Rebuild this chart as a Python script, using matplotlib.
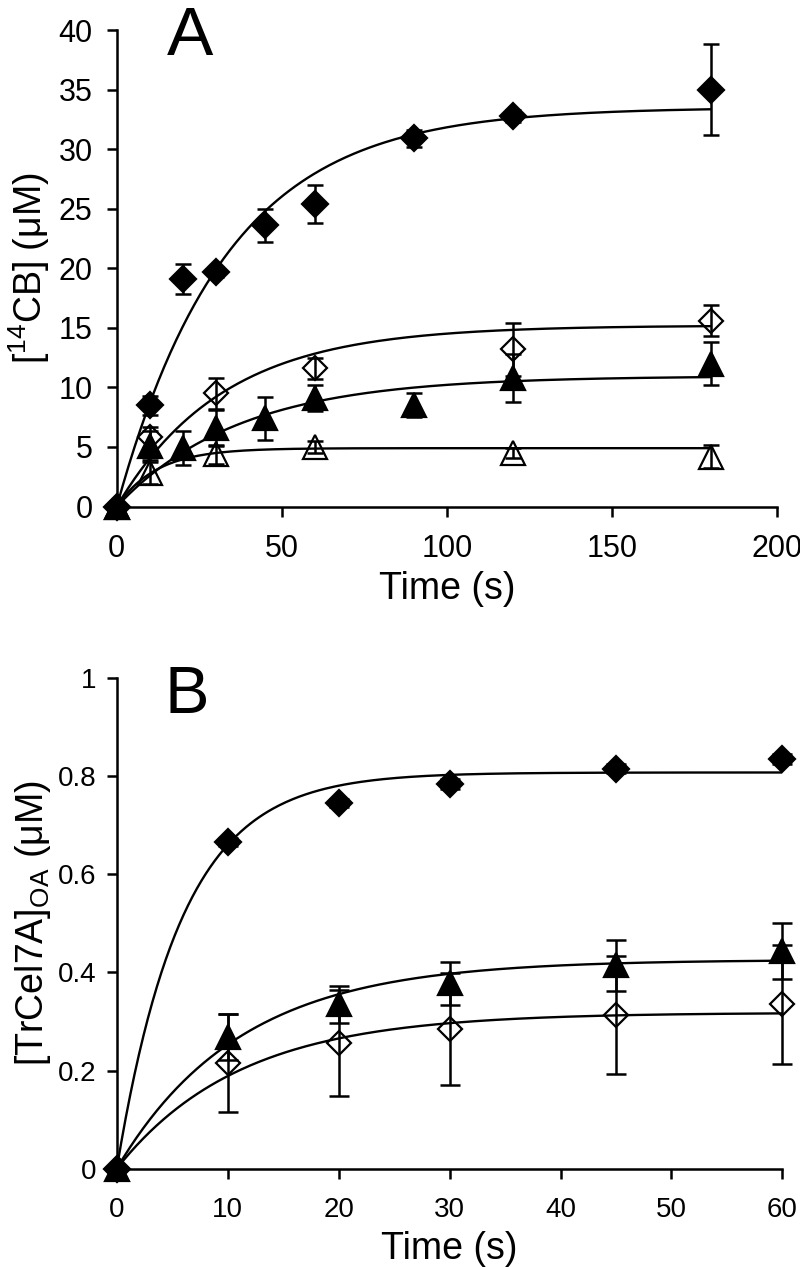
import numpy as np
import matplotlib
matplotlib.use("Agg")
import matplotlib.pyplot as plt
from matplotlib.ticker import FormatStrFormatter

plt.rcParams['font.family'] = ['Liberation Sans', 'DejaVu Sans']
plt.rcParams['mathtext.fontset'] = 'custom'
plt.rcParams['mathtext.rm'] = 'Liberation Sans'

# Panel A data: [14CB] (uM) vs time (s)
t_a = [0, 10, 20, 30, 45, 60, 90, 120, 180]
fd_a = [0, 8.5, 19.1, 19.7, 23.6, 25.4, 30.9, 32.8, 35.0]
fd_a_err = [0, 0.8, 1.3, 0.4, 1.4, 1.6, 0.7, 0.5, 3.8]

t_a2 = [0, 10, 30, 60, 120, 180]
od_a = [0, 5.8, 9.5, 11.6, 13.2, 15.6]
od_a_err = [0, 0.9, 1.3, 0.9, 2.2, 1.3]

t_a3 = [0, 10, 20, 30, 45, 60, 90, 120, 180]
ft_a = [0, 5.1, 4.9, 6.6, 7.4, 9.1, 8.5, 10.8, 12.0]
ft_a_err = [0, 1.2, 1.4, 1.5, 1.8, 1.1, 1.0, 2.0, 1.8]

t_a4 = [0, 10, 30, 60, 120, 180]
ot_a = [0, 2.8, 4.4, 5.0, 4.5, 4.2]
ot_a_err = [0, 0.9, 0.8, 0.5, 0.4, 1.0]

# fitted single-exponential curves: (plateau, rate)
fit_a = {'fd': (33.5, 0.030), 'od': (15.2, 0.031), 'ft': (10.95, 0.027), 'ot': (4.9, 0.083)}

# Panel B data: [TrCel7A]OA (uM) vs time (s)
t_b = [0, 10, 20, 30, 45, 60]
fd_b = [0, 0.666, 0.746, 0.784, 0.816, 0.836]
fd_b_err = [0, 0.008, 0.008, 0.01, 0.01, 0.01]
ft_b = [0, 0.268, 0.335, 0.378, 0.415, 0.443]
ft_b_err = [0, 0.047, 0.038, 0.044, 0.052, 0.057]
od_b = [0, 0.215, 0.256, 0.284, 0.313, 0.335]
od_b_err = [0, 0.100, 0.108, 0.114, 0.120, 0.122]

fit_b = {'fd': (0.808, 0.17), 'ft': (0.426, 0.09), 'od': (0.318, 0.09)}

fig = plt.figure(figsize=(8, 12.67), dpi=100)
ax1 = fig.add_axes([0.146, 0.6002, 0.825, 0.3761])
ax2 = fig.add_axes([0.146, 0.0777, 0.832, 0.3869])


def style(ax, size):
    for s in ['top', 'right']:
        ax.spines[s].set_visible(False)
    for s in ['left', 'bottom']:
        ax.spines[s].set_linewidth(1.8)
    ax.tick_params(direction='out', length=7.5, width=1.8, labelsize=size)


def series(ax, t, y, err, marker, filled, ms, cap):
    face = 'black' if filled else 'white'
    z = 2.5 if filled else 2
    ax.plot(t, y, linestyle='none', marker=marker, ms=ms, mfc=face, mec='black',
            mew=1.6, clip_on=False, zorder=z)
    ax.errorbar(t, y, yerr=err, fmt='none', ecolor='black', elinewidth=1.8,
                capsize=cap, capthick=1.8, clip_on=False, zorder=3)


def fit(ax, tmax, p):
    a, k = p
    tt = np.linspace(0, tmax, 300)
    ax.plot(tt, a * (1 - np.exp(-k * tt)), color='black', lw=1.7, zorder=3)


# Panel A
series(ax1, t_a4, ot_a, ot_a_err, '^', False, 17, 5.5)
series(ax1, t_a2, od_a, od_a_err, 'D', False, 12.5, 5.5)
series(ax1, t_a, fd_a, fd_a_err, 'D', True, 13, 5.5)
series(ax1, t_a3, ft_a, ft_a_err, '^', True, 17, 5.5)
for key in ['fd', 'od', 'ft', 'ot']:
    fit(ax1, 180, fit_a[key])

ax1.set_xlim(0, 200)
ax1.set_ylim(0, 40)
ax1.set_xticks(np.arange(0, 201, 50))
ax1.set_yticks(np.arange(0, 41, 5))
style(ax1, 22)
ax1.tick_params(axis='x', pad=12)
ax1.tick_params(axis='y', pad=10)
ax1.set_xlabel('Time (s)', fontsize=27, va='top')
ax1.xaxis.set_label_coords(0.5, -0.135)
ax1.set_ylabel('[$^{\\mathregular{14}}$CB] (μM)', fontsize=27)
ax1.yaxis.label.set_verticalalignment('baseline')
ax1.yaxis.set_label_coords((42 - 116.7) / 660, 0.5)
fig.text(167 / 800, 1 - 55 / 1267, 'A', fontsize=50, va='baseline', ha='left')

# Panel B
series(ax2, t_b, od_b, od_b_err, 'D', False, 12.5, 7)
series(ax2, t_b, fd_b, fd_b_err, 'D', True, 13, 7)
series(ax2, t_b, ft_b, ft_b_err, '^', True, 17, 7)
for key in ['fd', 'ft', 'od']:
    fit(ax2, 60, fit_b[key])

ax2.set_xlim(0, 60)
ax2.set_ylim(0, 1)
ax2.set_xticks(np.arange(0, 61, 10))
ax2.set_yticks(np.arange(0, 1.01, 0.2))
ax2.yaxis.set_major_formatter(FormatStrFormatter('%g'))
style(ax2, 20)
ax2.tick_params(axis='x', pad=13)
ax2.tick_params(axis='y', pad=7)
ax2.set_xlabel('Time (s)', fontsize=27, va='top')
ax2.xaxis.set_label_coords(0.5, -0.128)
ax2.set_ylabel('[TrCel7A]$_{\\mathregular{OA}}$ (μM)', fontsize=27)
ax2.yaxis.label.set_verticalalignment('baseline')
ax2.yaxis.set_label_coords((43 - 117) / 665.6, 0.5)
fig.text(165 / 800, 1 - 713 / 1267, 'B', fontsize=48, va='baseline', ha='left')

fig.savefig('out.png', dpi=100)
